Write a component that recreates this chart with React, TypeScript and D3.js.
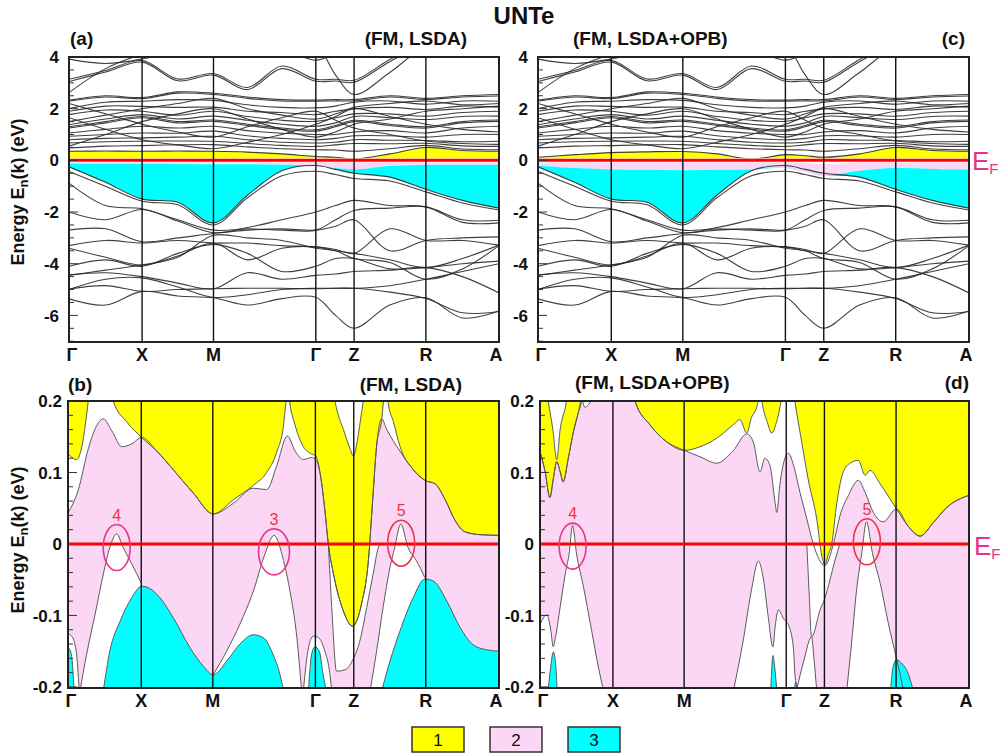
import React from "react";
import * as d3 from "d3";

// ---------- shared axis data ----------
const symLabels = ["Γ", "X", "M", "Γ", "Z", "R", "A"];
const symK = [0, 0.17, 0.336, 0.574, 0.663, 0.83, 1];
const kGrid = [0, 0.085, 0.17, 0.253, 0.336, 0.415, 0.495, 0.574, 0.62, 0.663, 0.746, 0.83, 0.915, 1];
const topTicks = [4, 2, 0, -2, -4, -6];
const bottomTicks = [0.2, 0.1, 0, -0.1, -0.2];
const legendItems = ["1", "2", "3"];

// ---------- top panels: bands (eV) on kGrid ----------
const highBands = [
  [3.92, 3.75, 3.92, 4.25, 4.5, 4.5, 4.3, 3.88, 4.15, 4.5, 4.8, 4.8, 4.8, 4.8],
  [3.14, 3.48, 3.86, 3.15, 3.36, 2.82, 3.65, 3.14, 3.14, 3.1, 3.9, 4.6, 4.6, 4.6],
  [3.05, 3.42, 3.8, 3.08, 3.3, 2.74, 3.55, 3.06, 3.07, 3.02, 3.82, 4.5, 4.5, 4.5],
  [2.62, 3.55, 4.1, 4.4, 4.5, 4.5, 4.5, 4.25, 4.3, 4.5, 4.7, 4.7, 4.7, 4.7],
  [4.5, 4.5, 4.5, 4.6, 4.6, 4.6, 4.5, 4.45, 3.3, 2.55, 3.4, 4.4, 4.6, 4.6],
];
const midBands = [
  [2.29, 2.45, 2.39, 2.6, 2.55, 2.4, 2.3, 2.29, 2.3, 2.3, 2.45, 2.36, 2.45, 2.49],
  [2.33, 2.5, 2.43, 2.65, 2.6, 2.45, 2.35, 2.33, 2.35, 2.35, 2.5, 2.4, 2.5, 2.55],
  [2.0, 2.25, 2.29, 2.35, 2.32, 2.15, 2.05, 2.03, 2.1, 2.25, 2.3, 2.17, 2.3, 2.29],
  [1.9, 2.1, 2.09, 2.05, 2.06, 1.9, 1.85, 1.77, 1.9, 2.0, 2.05, 1.97, 2.1, 2.06],
  [1.77, 1.95, 1.9, 1.75, 1.9, 1.7, 1.55, 1.51, 1.65, 1.8, 1.8, 1.71, 1.85, 1.9],
  [1.38, 1.6, 1.77, 1.6, 1.71, 1.55, 1.4, 1.32, 1.45, 1.7, 1.65, 1.58, 1.7, 1.71],
  [1.25, 1.45, 1.65, 1.45, 1.51, 1.35, 1.2, 1.13, 1.3, 1.5, 1.35, 1.25, 1.45, 1.51],
  [1.3, 1.5, 1.7, 1.5, 1.56, 1.4, 1.25, 1.18, 1.35, 1.55, 1.4, 1.3, 1.5, 1.56],
  [1.06, 1.2, 1.32, 1.25, 1.32, 1.15, 1.05, 1.0, 1.0, 1.1, 1.15, 1.06, 1.25, 1.32],
  [0.93, 1.0, 1.06, 1.05, 1.13, 0.95, 0.85, 0.8, 0.85, 0.95, 0.95, 0.9, 1.0, 1.0],
  [0.8, 0.85, 0.87, 0.9, 0.93, 0.8, 0.7, 0.67, 0.7, 0.8, 0.78, 0.77, 0.72, 0.74],
  [0.67, 0.72, 0.74, 0.75, 0.74, 0.65, 0.58, 0.54, 0.6, 0.65, 0.64, 0.66, 0.56, 0.54],
  [0.48, 0.55, 0.57, 0.6, 0.61, 0.52, 0.45, 0.41, 0.4, 0.35, 0.45, 0.58, 0.44, 0.41],
  [0.55, 1.0, 1.5, 1.8, 2.0, 1.6, 1.2, 0.9, 1.1, 1.4, 1.6, 1.9, 2.0, 2.1],
  [1.65, 1.2, 0.8, 0.6, 0.45, 0.7, 1.0, 1.4, 1.7, 2.0, 1.7, 1.4, 1.2, 1.1],
  [2.2, 1.8, 1.4, 1.1, 0.9, 1.3, 1.65, 1.9, 1.55, 1.25, 1.0, 0.75, 0.65, 0.62],
  [1.5, 1.75, 2.0, 2.2, 2.4, 2.0, 1.75, 1.6, 1.8, 2.05, 2.2, 2.3, 2.15, 2.2],
];
const valenceTop = [-0.25, -0.85, -1.5, -1.62, -2.42, -1.35, -0.4, -0.2, -0.35, -0.5, -0.65, -1.12, -1.55, -1.85];
const lowBands = [
  [-0.43, -1.0, -1.58, -1.72, -2.5, -1.45, -0.6, -0.42, -0.55, -0.7, -0.8, -1.22, -1.65, -1.92],
  [-0.88, -1.75, -1.87, -2.3, -2.7, -2.65, -2.7, -2.7, -2.3, -1.94, -1.85, -1.8, -2.3, -2.32],
  [-2.0, -2.3, -1.9, -2.35, -2.8, -2.6, -2.3, -2.0, -1.75, -1.55, -1.75, -1.8, -2.4, -2.42],
  [-2.7, -2.65, -3.15, -3.0, -2.83, -2.7, -2.65, -2.7, -2.55, -2.3, -3.5, -3.1, -3.0, -2.96],
  [-3.3, -3.1, -3.2, -3.1, -3.2, -3.2, -3.3, -3.35, -3.45, -3.6, -2.65, -3.1, -3.1, -3.28],
  [-3.4, -3.75, -4.05, -3.7, -3.2, -3.85, -3.4, -3.35, -3.5, -3.6, -3.85, -4.15, -3.8, -3.28],
  [-4.1, -3.85, -4.1, -3.6, -3.25, -3.6, -4.3, -4.1, -3.8, -3.8, -4.2, -4.15, -4.0, -3.9],
  [-4.43, -4.35, -4.5, -4.75, -4.97, -4.35, -4.6, -4.45, -4.4, -4.3, -4.25, -4.15, -4.5, -5.13],
  [-4.98, -4.85, -5.07, -5.0, -4.97, -4.95, -4.95, -4.97, -4.95, -4.95, -4.85, -4.6, -4.3, -4.0],
  [-5.36, -5.6, -5.07, -5.25, -5.32, -5.6, -5.35, -5.3, -6.0, -6.5, -5.6, -5.32, -6.1, -5.83],
  [-5.0, -4.6, -4.55, -4.9, -5.3, -5.2, -5.0, -4.95, -4.95, -4.95, -5.1, -5.35, -5.9, -5.85],
  [-4.45, -4.25, -4.05, -3.75, -2.9, -3.0, -3.1, -3.4, -3.5, -3.8, -3.95, -4.6, -4.2, -3.3],
];
// fill boundaries, panel (a)
const aYellowTop = [0.35, 0.36, 0.35, 0.36, 0.35, 0.32, 0.25, 0.15, 0.12, 0.05, 0.25, 0.5, 0.38, 0.35];
const aPinkTop = [-0.02, -0.02, -0.02, -0.02, -0.02, -0.02, -0.02, -0.02, -0.02, -0.02, -0.02, -0.02, -0.02, -0.02];
const aCyanTop = [-0.12, -0.13, -0.13, -0.14, -0.15, -0.15, -0.17, -0.2, -0.3, -0.35, -0.22, -0.17, -0.17, -0.17];
// fill boundaries, panel (c)
const cYellowTop = [0.12, 0.22, 0.3, 0.33, 0.34, 0.25, 0.05, 0.22, 0.18, 0.12, 0.25, 0.5, 0.38, 0.35];
const cPinkTop = [-0.07, -0.07, -0.07, -0.07, -0.07, -0.07, -0.07, -0.07, -0.1, -0.15, -0.07, -0.07, -0.07, -0.07];
const cCyanTop = [-0.2, -0.3, -0.35, -0.36, -0.38, -0.36, -0.35, -0.3, -0.45, -0.6, -0.4, -0.3, -0.33, -0.35];

// ---------- bottom panel (b): boundaries as [k, E] ----------
type Pt = [number, number];
const bPinkTop: Pt[] = [[0, 0.043], [0.024, 0.076], [0.047, 0.133], [0.067, 0.166], [0.082, 0.175], [0.101, 0.159], [0.125, 0.136], [0.148, 0.14], [0.171, 0.149], [0.206, 0.13], [0.244, 0.104], [0.291, 0.071], [0.337, 0.042], [0.384, 0.057], [0.43, 0.078], [0.461, 0.076], [0.484, 0.109], [0.509, 0.151], [0.527, 0.13], [0.546, 0.118], [0.565, 0.121], [0.575, 0.118], [0.586, 0.095], [0.596, 0.047], [0.604, 0.0], [0.616, -0.042], [0.639, -0.094], [0.66, -0.115], [0.681, -0.084], [0.697, -0.023], [0.707, 0.062], [0.716, 0.137], [0.728, 0.175], [0.739, 0.161], [0.77, 0.13], [0.801, 0.104], [0.828, 0.089], [0.852, 0.084], [0.875, 0.062], [0.898, 0.033], [0.921, 0.017], [0.956, 0.013], [1.0, 0.012]];
const bYellowLeft: Pt[] = [[0, 0.126], [0.02, 0.118], [0.034, 0.142], [0.042, 0.175], [0.047, 0.2], [0.049, 0.21]];
const bYellowXM: Pt[] = [[0.103, 0.21], [0.105, 0.2], [0.136, 0.171], [0.171, 0.149], [0.206, 0.13], [0.244, 0.104], [0.291, 0.071], [0.337, 0.042], [0.384, 0.062], [0.43, 0.082], [0.461, 0.1], [0.484, 0.128], [0.5, 0.166], [0.506, 0.2], [0.508, 0.21]];
const bYellowZ: Pt[] = [[0.512, 0.21], [0.514, 0.2], [0.527, 0.166], [0.546, 0.136], [0.565, 0.126], [0.575, 0.123], [0.586, 0.095], [0.596, 0.047], [0.604, 0.0], [0.616, -0.042], [0.639, -0.094], [0.66, -0.115], [0.681, -0.084], [0.697, -0.023], [0.707, 0.062], [0.716, 0.137], [0.728, 0.175], [0.732, 0.2], [0.734, 0.21]];
const bYellowRA: Pt[] = [[0.741, 0.21], [0.743, 0.197], [0.755, 0.171], [0.77, 0.137], [0.801, 0.104], [0.828, 0.089], [0.852, 0.084], [0.875, 0.062], [0.898, 0.033], [0.921, 0.017], [0.956, 0.013], [1.0, 0.012]];
const bZTopV: Pt[] = [[0.616, 0.21], [0.625, 0.185], [0.639, 0.16], [0.654, 0.134], [0.662, 0.123], [0.67, 0.14], [0.679, 0.175], [0.685, 0.2], [0.687, 0.21]];
const bZLow: Pt[] = [[0.604, 0], [0.612, -0.089], [0.623, -0.178], [0.643, -0.176], [0.66, -0.163], [0.677, -0.136], [0.693, -0.089], [0.708, -0.042], [0.72, -0.005], [0.724, 0]];
const bGammaWhite: Pt[] = [[0, -0.126], [0.0085, -0.129], [0.019, -0.15], [0.026, -0.205]];
const bGammaCyan: Pt[] = [[0, -0.145], [0.006, -0.15], [0.011, -0.173], [0.014, -0.205]];
const bHole4: Pt[] = [[0.028, -0.205], [0.043, -0.155], [0.063, -0.098], [0.082, -0.042], [0.097, -0.005], [0.113, 0.014], [0.128, -0.005], [0.148, -0.028], [0.171, -0.056]];
const bCyanMain: Pt[] = [[0.082, -0.205], [0.097, -0.15], [0.121, -0.108], [0.148, -0.075], [0.171, -0.059], [0.186, -0.061], [0.213, -0.075], [0.244, -0.103], [0.283, -0.145], [0.314, -0.171], [0.337, -0.183], [0.368, -0.164], [0.399, -0.14], [0.43, -0.127], [0.453, -0.131], [0.476, -0.155], [0.492, -0.183], [0.5, -0.205]];
const bHole3: Pt[] = [[0.337, -0.183], [0.368, -0.15], [0.399, -0.112], [0.43, -0.066], [0.457, -0.014], [0.478, 0.012], [0.5, -0.023], [0.515, -0.066], [0.531, -0.131], [0.542, -0.205]];
const bG2White: Pt[] = [[0.546, -0.205], [0.558, -0.145], [0.569, -0.129], [0.581, -0.131], [0.596, -0.15], [0.606, -0.175], [0.612, -0.205]];
const bG2Cyan: Pt[] = [[0.558, -0.205], [0.565, -0.155], [0.573, -0.144], [0.583, -0.15], [0.592, -0.183], [0.599, -0.205]];
const bHole5: Pt[] = [[0.701, -0.205], [0.716, -0.15], [0.731, -0.089], [0.747, -0.033], [0.758, -0.005], [0.772, 0.028], [0.789, -0.005], [0.808, -0.023], [0.828, -0.047]];
const bCyanR: Pt[] = [[0.728, -0.205], [0.747, -0.164], [0.77, -0.122], [0.801, -0.075], [0.828, -0.049], [0.848, -0.052], [0.879, -0.08], [0.91, -0.117], [0.94, -0.141], [0.971, -0.148], [1.0, -0.15]];

// ---------- bottom panel (d) ----------
const dPinkTop: Pt[] = [[0, 0.129], [0.012, 0.101], [0.023, 0.065], [0.031, 0.091], [0.039, 0.115], [0.047, 0.101], [0.054, 0.087], [0.066, 0.12], [0.078, 0.157], [0.089, 0.183], [0.097, 0.201], [0.105, 0.191], [0.113, 0.195], [0.124, 0.205], [0.14, 0.215], [0.218, 0.215], [0.221, 0.201], [0.256, 0.167], [0.295, 0.143], [0.336, 0.131], [0.373, 0.122], [0.412, 0.113], [0.451, 0.131], [0.482, 0.154], [0.497, 0.143], [0.513, 0.101], [0.524, 0.12], [0.536, 0.11], [0.548, 0.058], [0.552, 0.044], [0.559, 0.082], [0.571, 0.12], [0.579, 0.127], [0.591, 0.11], [0.606, 0.072], [0.622, 0.035], [0.637, 0.0], [0.664, -0.03], [0.684, 0.0], [0.699, 0.039], [0.719, 0.068], [0.742, 0.089], [0.758, 0.072], [0.777, 0.044], [0.8, 0.031], [0.831, 0.049], [0.858, 0.025], [0.886, 0.011], [0.917, 0.03], [0.948, 0.051], [1.0, 0.068]];
const dYellowLeft: Pt[] = [[0, 0.129], [0.012, 0.101], [0.023, 0.065], [0.031, 0.091], [0.039, 0.115], [0.047, 0.101], [0.054, 0.087], [0.066, 0.12], [0.078, 0.157], [0.089, 0.183], [0.097, 0.201], [0.099, 0.21]];
const dWhiteVLeft: Pt[] = [[0.017, 0.21], [0.019, 0.201], [0.03, 0.16], [0.039, 0.118], [0.047, 0.16], [0.062, 0.201], [0.064, 0.21]];
const dYellowMid: Pt[] = [[0.219, 0.21], [0.221, 0.201], [0.256, 0.167], [0.295, 0.143], [0.336, 0.131], [0.373, 0.136], [0.412, 0.148], [0.451, 0.167], [0.466, 0.174], [0.482, 0.155], [0.493, 0.177], [0.505, 0.191], [0.509, 0.201], [0.511, 0.21]];
const dYellowWedge: Pt[] = [[0.515, 0.21], [0.517, 0.201], [0.53, 0.17], [0.54, 0.155], [0.551, 0.17], [0.562, 0.201], [0.564, 0.21]];
const dYellowRight: Pt[] = [[0.592, 0.21], [0.594, 0.201], [0.61, 0.143], [0.625, 0.091], [0.645, 0.035], [0.657, -0.017], [0.664, -0.029], [0.672, -0.015], [0.68, 0.0], [0.692, 0.058], [0.707, 0.101], [0.723, 0.113], [0.742, 0.117], [0.758, 0.096], [0.769, 0.103], [0.793, 0.084], [0.831, 0.049], [0.858, 0.025], [0.886, 0.011], [0.917, 0.03], [0.948, 0.051], [1.0, 0.068]];
const dZWhiteUp: Pt[] = [[0.622, 0], [0.627, -0.064], [0.633, -0.13], [0.653, -0.092], [0.664, -0.076], [0.676, -0.05], [0.688, -0.022], [0.699, 0]];
const dZWhiteDown: Pt[] = [[0.598, -0.205], [0.615, -0.163], [0.633, -0.13], [0.639, -0.163], [0.645, -0.205]];
const dHole4: Pt[] = [[0, -0.113], [0.016, -0.099], [0.025, -0.12], [0.031, -0.144], [0.035, -0.134], [0.047, -0.088], [0.058, -0.045], [0.068, -0.013], [0.076, 0.026], [0.085, -0.013], [0.101, -0.059], [0.12, -0.12], [0.136, -0.172], [0.148, -0.205]];
const dCyanGamma: Pt[] = [[0.019, -0.205], [0.025, -0.172], [0.031, -0.151], [0.037, -0.172], [0.04, -0.205]];
const dHoleM: Pt[] = [[0.451, -0.205], [0.474, -0.134], [0.493, -0.064], [0.509, -0.024], [0.521, -0.05], [0.532, -0.102], [0.543, -0.144], [0.548, -0.116], [0.556, -0.092], [0.567, -0.104], [0.581, -0.116], [0.591, -0.148], [0.594, -0.181], [0.6, -0.205]];
const dCyanM: Pt[] = [[0.538, -0.205], [0.543, -0.156], [0.547, -0.172], [0.552, -0.205]];
const dCyanG2: Pt[] = [[0.593, -0.205], [0.596, -0.193], [0.6, -0.205]];
const dHole5: Pt[] = [[0.715, -0.205], [0.727, -0.134], [0.738, -0.064], [0.75, -0.013], [0.761, 0.031], [0.775, -0.013], [0.793, -0.055], [0.812, -0.111], [0.831, -0.16], [0.839, -0.181], [0.847, -0.205]];
const dCyanR: Pt[] = [[0.817, -0.205], [0.823, -0.172], [0.831, -0.162], [0.843, -0.167], [0.858, -0.181], [0.87, -0.205]];

// ellipse marks: [k, E, label]
const bMarks: [number, number, string][] = [[0.113, -0.005, "4"], [0.478, -0.011, "3"], [0.773, 0.001, "5"]];
const dMarks: [number, number, string][] = [[0.076, -0.003, "4"], [0.762, 0.003, "5"]];

// ---------- styling ----------
const YELLOW = "#ffff00";
const PINK = "#fcd6f5";
const CYAN = "#00ffff";
const FONT = "'Liberation Sans', Arial, Helvetica, sans-serif";
const TOPY = { y0: 57, y1: 342, eMin: -7.03, eMax: 4 };
const BOTY = { y0: 401, y1: 688, eMin: -0.2015, eMax: 0.2 };

type FillSpec = { pts: Pt[]; color: string; to: "top" | "bottom" | "zero"; line?: boolean };

function SymLines({ x, y0, y1, labelY }: any) {
  return (
    <g>
      {symK.map((k, i) =>
        i > 0 && i < symK.length - 1 ? (
          <line key={"v" + i} x1={x(k)} x2={x(k)} y1={y0} y2={y1} stroke="#111" strokeWidth={1.4} />
        ) : null
      )}
      {symLabels.map((s, i) => (
        <text
          key={"l" + i}
          x={x(symK[i]) + (i === 0 ? 3 : i === symLabels.length - 1 ? -3 : 0)}
          y={labelY}
          textAnchor="middle"
          fontFamily={FONT}
          fontWeight="bold"
          fontSize={18}
          fill="#111"
        >
          {s}
        </text>
      ))}
    </g>
  );
}

function TopPanel({ id, x0, x1, yellowTop, pinkTop, cyanTop }: any) {
  const x = d3.scaleLinear().domain([0, 1]).range([x0, x1]);
  const y = d3.scaleLinear().domain([TOPY.eMin, TOPY.eMax]).range([TOPY.y1, TOPY.y0]);
  const curve = d3.curveCatmullRom.alpha(0.5);
  const line = d3
    .line<number>()
    .x((_, i) => x(kGrid[i]))
    .y((v) => y(v))
    .curve(curve);
  const between = (top: number[], bottom: number[]) =>
    d3
      .area<number>()
      .x((_, i) => x(kGrid[i]))
      .y0((_, i) => y(bottom[i]))
      .y1((_, i) => y(top[i]))
      .curve(curve)(top) as string;
  const zeros = kGrid.map(() => 0);
  const cyanBottom = valenceTop.map((v, i) => Math.min(v, cyanTop[i]));
  const all = [...highBands, ...midBands, ...lowBands, valenceTop, yellowTop];
  const minor = d3.range(-7, 4.01, 0.5);
  return (
    <g>
      <defs>
        <clipPath id={id}>
          <rect x={x0} y={TOPY.y0} width={x1 - x0} height={TOPY.y1 - TOPY.y0} />
        </clipPath>
      </defs>
      <g clipPath={`url(#${id})`}>
        <path d={between(yellowTop, zeros)} fill={YELLOW} />
        <path d={between(pinkTop, cyanTop)} fill={PINK} />
        <path d={between(cyanTop, cyanBottom)} fill={CYAN} />
        {all.map((b, i) => (
          <path key={i} d={line(b) as string} fill="none" stroke="#2a2a2a" strokeWidth={1.1} strokeOpacity={0.9} />
        ))}
        <line x1={x0} x2={x1} y1={y(0)} y2={y(0)} stroke="#fff" strokeWidth={4} />
        <line x1={x0} x2={x1} y1={y(0)} y2={y(0)} stroke="#ff0000" strokeWidth={3} />
      </g>
      {minor.map((t, i) => (
        <line key={"m" + i} x1={x0} x2={x0 + (Math.abs(t % 2) < 1e-6 ? 9 : 5)} y1={y(t)} y2={y(t)} stroke="#333" strokeWidth={1} />
      ))}
      {topTicks.map((t) => (
        <text key={t} x={x0 - 10} y={y(t)} dy="0.36em" textAnchor="end" fontFamily={FONT} fontWeight="bold" fontSize={17} fill="#111">
          {t}
        </text>
      ))}
      <SymLines x={x} y0={TOPY.y0} y1={TOPY.y1} labelY={361} />
      <rect x={x0} y={TOPY.y0} width={x1 - x0} height={TOPY.y1 - TOPY.y0} fill="none" stroke="#222" strokeWidth={2} />
    </g>
  );
}

function BottomPanel({ id, x0, x1, fills, marks }: any) {
  const x = d3.scaleLinear().domain([0, 1]).range([x0, x1]);
  const y = d3.scaleLinear().domain([BOTY.eMin, BOTY.eMax]).range([BOTY.y1, BOTY.y0]);
  const curve = d3.curveMonotoneX;
  const areaFor = (f: FillSpec) => {
    const base = f.to === "top" ? 0.26 : f.to === "bottom" ? -0.26 : 0;
    return d3
      .area<Pt>()
      .x((p) => x(p[0]))
      .y0(y(base))
      .y1((p) => y(p[1]))
      .curve(curve)(f.pts) as string;
  };
  const lineFor = (pts: Pt[]) =>
    d3
      .line<Pt>()
      .x((p) => x(p[0]))
      .y((p) => y(p[1]))
      .curve(curve)(pts) as string;
  const minor = d3.range(-0.2, 0.2001, 0.02);
  return (
    <g>
      <defs>
        <clipPath id={id}>
          <rect x={x0} y={BOTY.y0} width={x1 - x0} height={BOTY.y1 - BOTY.y0} />
        </clipPath>
      </defs>
      <g clipPath={`url(#${id})`}>
        <rect x={x0} y={BOTY.y0} width={x1 - x0} height={BOTY.y1 - BOTY.y0} fill={PINK} />
        {fills.map((f: FillSpec, i: number) => (
          <path key={"f" + i} d={areaFor(f)} fill={f.color} />
        ))}
        {fills.map((f: FillSpec, i: number) =>
          f.line === false ? null : (
            <path key={"l" + i} d={lineFor(f.pts)} fill="none" stroke="#5a5a5a" strokeWidth={1} />
          )
        )}
      </g>
      {minor.map((t, i) => (
        <line key={"m" + i} x1={x0} x2={x0 + (i % 5 === 0 ? 9 : 5)} y1={y(t)} y2={y(t)} stroke="#333" strokeWidth={1} />
      ))}
      {bottomTicks.map((t) => (
        <text key={t} x={x0 - 6} y={y(t)} dy="0.36em" textAnchor="end" fontFamily={FONT} fontWeight="bold" fontSize={17} fill="#111">
          {t === 0 ? "0" : t}
        </text>
      ))}
      <SymLines x={x} y0={BOTY.y0} y1={BOTY.y1} labelY={707} />
      <line x1={x0} x2={x1} y1={y(0)} y2={y(0)} stroke="#ff0000" strokeWidth={3} />
      <rect x={x0} y={BOTY.y0} width={x1 - x0} height={BOTY.y1 - BOTY.y0} fill="none" stroke="#222" strokeWidth={2} />
      {marks.map((m: [number, number, string], i: number) => {
        const col = m[2] === "5" ? "#ee3344" : "#e5368c";
        const ry = 23;
        return (
          <g key={"e" + i}>
            <ellipse cx={x(m[0])} cy={y(m[1])} rx={m[2] === "3" ? 15.5 : 13.5} ry={ry} fill="none" stroke={col} strokeWidth={1.6} />
            <text x={x(m[0])} y={y(m[1]) - ry - 4} textAnchor="middle" fontFamily={FONT} fontSize={16} fill="#ee3344">
              {m[2]}
            </text>
          </g>
        );
      })}
    </g>
  );
}

function YLabel({ cx, cy }: any) {
  return (
    <text transform={`translate(${cx},${cy}) rotate(-90)`} textAnchor="middle" fontFamily={FONT} fontWeight="bold" fontSize={18} fill="#111">
      Energy E<tspan dy={4} fontSize={13}>n</tspan>
      <tspan dy={-4}>(k) (eV)</tspan>
    </text>
  );
}

function EF({ x, y }: any) {
  return (
    <text x={x} y={y} fontFamily={FONT} fontSize={26} fill="#e8308a">
      E<tspan dy={4} fontSize={15}>F</tspan>
    </text>
  );
}

export default function App() {
  const W = 1003;
  const H = 756;
  const white = "#ffffff";
  const bFills: FillSpec[] = [
    { pts: bPinkTop, color: white, to: "top" },
    { pts: bZLow, color: white, to: "zero" },
    { pts: bYellowLeft, color: YELLOW, to: "top" },
    { pts: bYellowXM, color: YELLOW, to: "top" },
    { pts: bYellowZ, color: YELLOW, to: "top" },
    { pts: bYellowRA, color: YELLOW, to: "top" },
    { pts: bZTopV, color: white, to: "top" },
    { pts: bGammaWhite, color: white, to: "bottom" },
    { pts: bHole4, color: white, to: "bottom" },
    { pts: bHole3, color: white, to: "bottom" },
    { pts: bG2White, color: white, to: "bottom" },
    { pts: bHole5, color: white, to: "bottom" },
    { pts: bGammaCyan, color: CYAN, to: "bottom" },
    { pts: bCyanMain, color: CYAN, to: "bottom" },
    { pts: bG2Cyan, color: CYAN, to: "bottom" },
    { pts: bCyanR, color: CYAN, to: "bottom" },
  ];
  const dFills: FillSpec[] = [
    { pts: dPinkTop, color: white, to: "top" },
    { pts: dZWhiteUp, color: white, to: "zero" },
    { pts: dYellowLeft, color: YELLOW, to: "top" },
    { pts: dYellowMid, color: YELLOW, to: "top" },
    { pts: dYellowWedge, color: YELLOW, to: "top" },
    { pts: dYellowRight, color: YELLOW, to: "top" },
    { pts: dWhiteVLeft, color: white, to: "top" },
    { pts: dHole4, color: white, to: "bottom" },
    { pts: dHoleM, color: white, to: "bottom" },
    { pts: dZWhiteDown, color: white, to: "bottom" },
    { pts: dHole5, color: white, to: "bottom" },
    { pts: dCyanGamma, color: CYAN, to: "bottom" },
    { pts: dCyanM, color: CYAN, to: "bottom" },
    { pts: dCyanG2, color: CYAN, to: "bottom" },
    { pts: dCyanR, color: CYAN, to: "bottom" },
  ];
  const legendColors = [YELLOW, PINK, CYAN];
  const legendX = d3.scalePoint<string>().domain(legendItems).range([438, 594]);
  const hdr = { fontFamily: FONT, fontWeight: "bold" as const, fontSize: 19, fill: "#111" };
  return (
    <svg width={W} height={H} style={{ display: "block", position: "absolute", left: 0, top: 0, background: "#fff" }}>
      <rect width={W} height={H} fill="#fff" />
      <text x={524} y={24} textAnchor="middle" fontFamily={FONT} fontWeight="bold" fontSize={24} fill="#111">
        UNTe
      </text>
      {/* panel headers */}
      <text x={70} y={45} {...hdr}>(a)</text>
      <text x={467} y={45} textAnchor="end" {...hdr}>(FM, LSDA)</text>
      <text x={573} y={45} {...hdr}>(FM, LSDA+OPB)</text>
      <text x={965} y={45} textAnchor="end" {...hdr}>(c)</text>
      <text x={68} y={391} {...hdr}>(b)</text>
      <text x={462} y={391} textAnchor="end" {...hdr}>(FM, LSDA)</text>
      <text x={575} y={389} {...hdr}>(FM, LSDA+OPB)</text>
      <text x={969} y={389} textAnchor="end" {...hdr}>(d)</text>

      <TopPanel id="clipA" x0={69} x1={499} yellowTop={aYellowTop} pinkTop={aPinkTop} cyanTop={aCyanTop} />
      <TopPanel id="clipC" x0={538} x1={969} yellowTop={cYellowTop} pinkTop={cPinkTop} cyanTop={cCyanTop} />
      <BottomPanel id="clipB" x0={68} x1={499} fills={bFills} marks={bMarks} />
      <BottomPanel id="clipD" x0={540} x1={969} fills={dFills} marks={dMarks} />

      <YLabel cx={24} cy={192} />
      <YLabel cx={24} cy={540} />
      <EF x={972} y={170} />
      <EF x={974} y={555} />

      {legendItems.map((l, i) => (
        <g key={l}>
          <rect x={(legendX(l) as number) - 26} y={727} width={52} height={25} fill={legendColors[i]} stroke="#333" strokeWidth={1.5} />
          <text x={legendX(l) as number} y={746} textAnchor="middle" fontFamily={FONT} fontSize={17} fill="#111">
            {l}
          </text>
        </g>
      ))}
    </svg>
  );
}
